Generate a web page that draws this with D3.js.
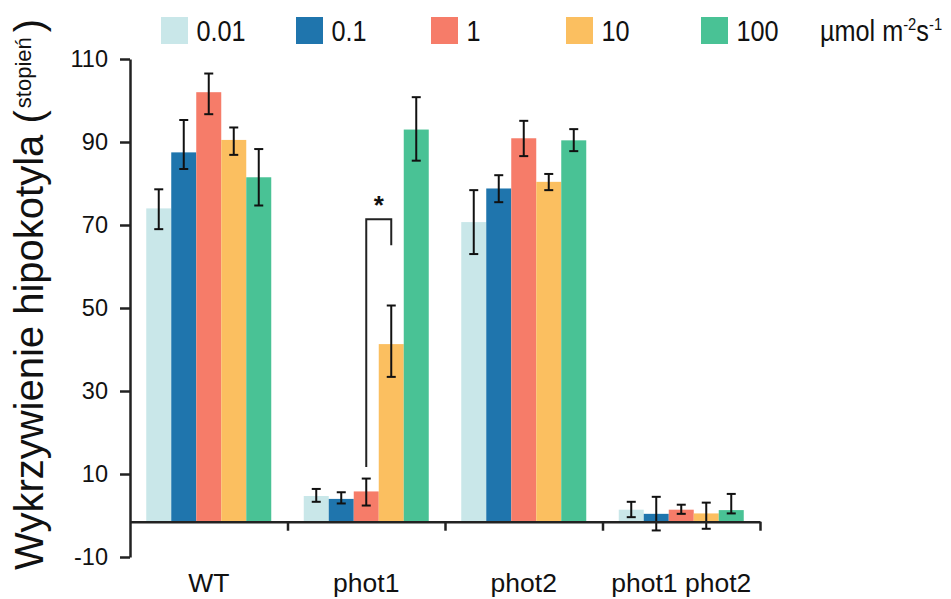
<!DOCTYPE html>
<html>
<head>
<meta charset="UTF-8" />
<title>Wykrzywienie hipokotyla</title>
<style>
  html, body { margin: 0; padding: 0; background: #fff; overflow: hidden; }
  svg { display: block; font-family: "Liberation Sans", Arial, sans-serif; }
  .axis path, .axis line { stroke: #222; stroke-width: 2.5px; }
  .axis text { fill: #111; }
</style>
<script src="https://cdn.jsdelivr.net/npm/d3@7"></script>
</head>
<body>
<svg></svg>
<script>
// genotypes (x categories) and light intensities (series)
const groups = ['WT', 'phot1', 'phot2', 'phot1 phot2'];
const series = ['0.01', '0.1', '1', '10', '100'];
const colors = ['#c9e7e9', '#1f75ad', '#f67c69', '#fbbf60', '#49c295'];

// mean curvature per group, one value per series
const wtVals     = [74.0, 87.5, 102.0, 90.5, 81.5];
const phot1Vals  = [4.7, 4.0, 5.8, 41.3, 93.0];
const phot2Vals  = [70.7, 78.8, 90.9, 80.4, 90.4];
const doubleVals = [1.4, 0.4, 1.4, 0.5, 1.3];

// error bars (up / down length)
const wtErrUp     = [4.6, 7.8, 4.5, 3.0, 6.8];
const wtErrDown   = [5.0, 4.0, 5.3, 3.6, 6.8];
const phot1ErrUp  = [1.7, 1.6, 3.1, 9.3, 7.8];
const phot1ErrDown= [1.4, 1.1, 3.4, 7.9, 7.5];
const phot2ErrUp  = [7.7, 3.2, 4.2, 1.9, 2.7];
const phot2ErrDown= [7.7, 3.3, 4.3, 2.0, 2.6];
const doubleErrUp = [1.9, 4.1, 1.2, 2.6, 3.9];
const doubleErrDown=[1.8, 4.0, 1.0, 3.7, 0.8];

const yTicks = [-10, 10, 30, 50, 70, 90, 110];
const baseline = -1.5; // the x axis crosses slightly below zero

// significance bracket in phot1: between '1' and '10'
const bracket = { group: 'phot1', from: '1', to: '10', top: 71.4, leftEnd: 11.7, rightEnd: 65.1 };

const vals = [wtVals, phot1Vals, phot2Vals, doubleVals];
const errUp = [wtErrUp, phot1ErrUp, phot2ErrUp, doubleErrUp];
const errDown = [wtErrDown, phot1ErrDown, phot2ErrDown, doubleErrDown];

const data = [];
groups.forEach((g, gi) => {
	series.forEach((s, si) => {
		data.push({ group: g, series: s, value: vals[gi][si], up: errUp[gi][si], down: errDown[gi][si] });
	});
});

const width = 951, height = 599;
const svg = d3.select('svg').attr('width', width).attr('height', height);

const y = d3.scaleLinear().domain([-10, 110]).range([557, 59]);
const x = d3.scaleBand().domain(groups).range([130, 760]);
const xs = d3.scaleBand().domain(series)
	.range([16.25, x.bandwidth() - 16.25]);
const color = d3.scaleOrdinal().domain(series).range(colors);

// bars
svg.append('g')
	.selectAll('rect')
	.data(data)
	.enter().append('rect')
	.attr('x', d => x(d.group) + xs(d.series))
	.attr('width', xs.bandwidth())
	.attr('y', d => y(Math.max(d.value, baseline)))
	.attr('height', d => Math.abs(y(baseline) - y(d.value)))
	.attr('fill', d => color(d.series));

// error bars
const cx = d => x(d.group) + xs(d.series) + xs.bandwidth() / 2;
const err = svg.append('g')
	.attr('stroke', '#111')
	.attr('stroke-width', 2)
	.selectAll('g')
	.data(data)
	.enter().append('g');
err.append('line')
	.attr('x1', cx).attr('x2', cx)
	.attr('y1', d => y(d.value + d.up))
	.attr('y2', d => y(d.value - d.down));
err.append('line')
	.attr('x1', d => cx(d) - 4.5).attr('x2', d => cx(d) + 4.5)
	.attr('y1', d => y(d.value + d.up)).attr('y2', d => y(d.value + d.up));
err.append('line')
	.attr('x1', d => cx(d) - 4.5).attr('x2', d => cx(d) + 4.5)
	.attr('y1', d => y(d.value - d.down)).attr('y2', d => y(d.value - d.down));

// y axis
const yAxis = svg.append('g')
	.attr('class', 'axis')
	.attr('transform', `translate(${x.range()[0]},0)`)
	.call(d3.axisLeft(y).tickValues(yTicks).tickFormat(d => String(d))
		.tickSize(10).tickSizeOuter(0).tickPadding(12));
yAxis.selectAll('text').attr('font-size', 23.5).attr('font-family', null);

// x axis: line with ticks at group boundaries
const xb = d3.scaleLinear().domain([0, groups.length]).range(x.range());
svg.append('g')
	.attr('class', 'axis')
	.attr('transform', `translate(0,${y(baseline)})`)
	.call(d3.axisBottom(xb).tickValues([1, 2, 3, 4]).tickFormat('').tickSize(9).tickSizeOuter(0));

// x labels
const xLab = svg.append('g')
	.attr('transform', 'translate(0,592)')
	.call(d3.axisBottom(x).tickSize(0).tickPadding(0));
xLab.select('.domain').remove();
xLab.selectAll('text')
	.attr('dy', 0)
	.attr('font-size', 26.5)
	.attr('font-family', null)
	.attr('fill', '#111');

// significance bracket
const bx1 = x(bracket.group) + xs(bracket.from) + xs.bandwidth() / 2;
const bx2 = x(bracket.group) + xs(bracket.to) + xs.bandwidth() / 2;
svg.append('path')
	.attr('d', d3.line()([[bx1, y(bracket.leftEnd)], [bx1, y(bracket.top)], [bx2, y(bracket.top)], [bx2, y(bracket.rightEnd)]]))
	.attr('fill', 'none')
	.attr('stroke', '#222')
	.attr('stroke-width', 2);
svg.append('text')
	.attr('x', (bx1 + bx2) / 2)
	.attr('y', y(bracket.top) - 5)
	.attr('text-anchor', 'middle')
	.attr('font-size', 26)
	.attr('font-weight', 'bold')
	.attr('fill', '#111')
	.text('*');

// y axis title
const yt = svg.append('text')
	.attr('transform', 'rotate(-90)')
	.attr('x', -570)
	.attr('y', 43)
	.attr('font-size', 40)
	.attr('fill', '#111');
yt.append('tspan').text('Wykrzywienie hipokotyla (');
yt.append('tspan').attr('font-size', 22).attr('dy', -12).attr('dx', 2).text('stopień');
yt.append('tspan').attr('dy', 12).attr('dx', 5).text(')');

// legend
const legend = svg.append('g')
	.selectAll('g')
	.data(series)
	.enter().append('g')
	.attr('transform', (d, i) => `translate(${161 + i * 135},17)`);
legend.append('rect')
	.attr('width', 27).attr('height', 27)
	.attr('fill', d => color(d));
legend.append('text')
	.attr('transform', 'translate(35.5,24) scale(0.87,1)')
	.attr('font-size', 29)
	.attr('fill', '#111')
	.text(d => d);

const unit = svg.append('text')
	.attr('transform', 'translate(820,41) scale(0.87,1)')
	.attr('font-size', 29)
	.attr('fill', '#111');
unit.append('tspan').text('µmol m');
unit.append('tspan').attr('font-size', 17).attr('dy', -11).text('-2');
unit.append('tspan').attr('dy', 11).text('s');
unit.append('tspan').attr('font-size', 17).attr('dy', -11).text('-1');
</script>
</body>
</html>
